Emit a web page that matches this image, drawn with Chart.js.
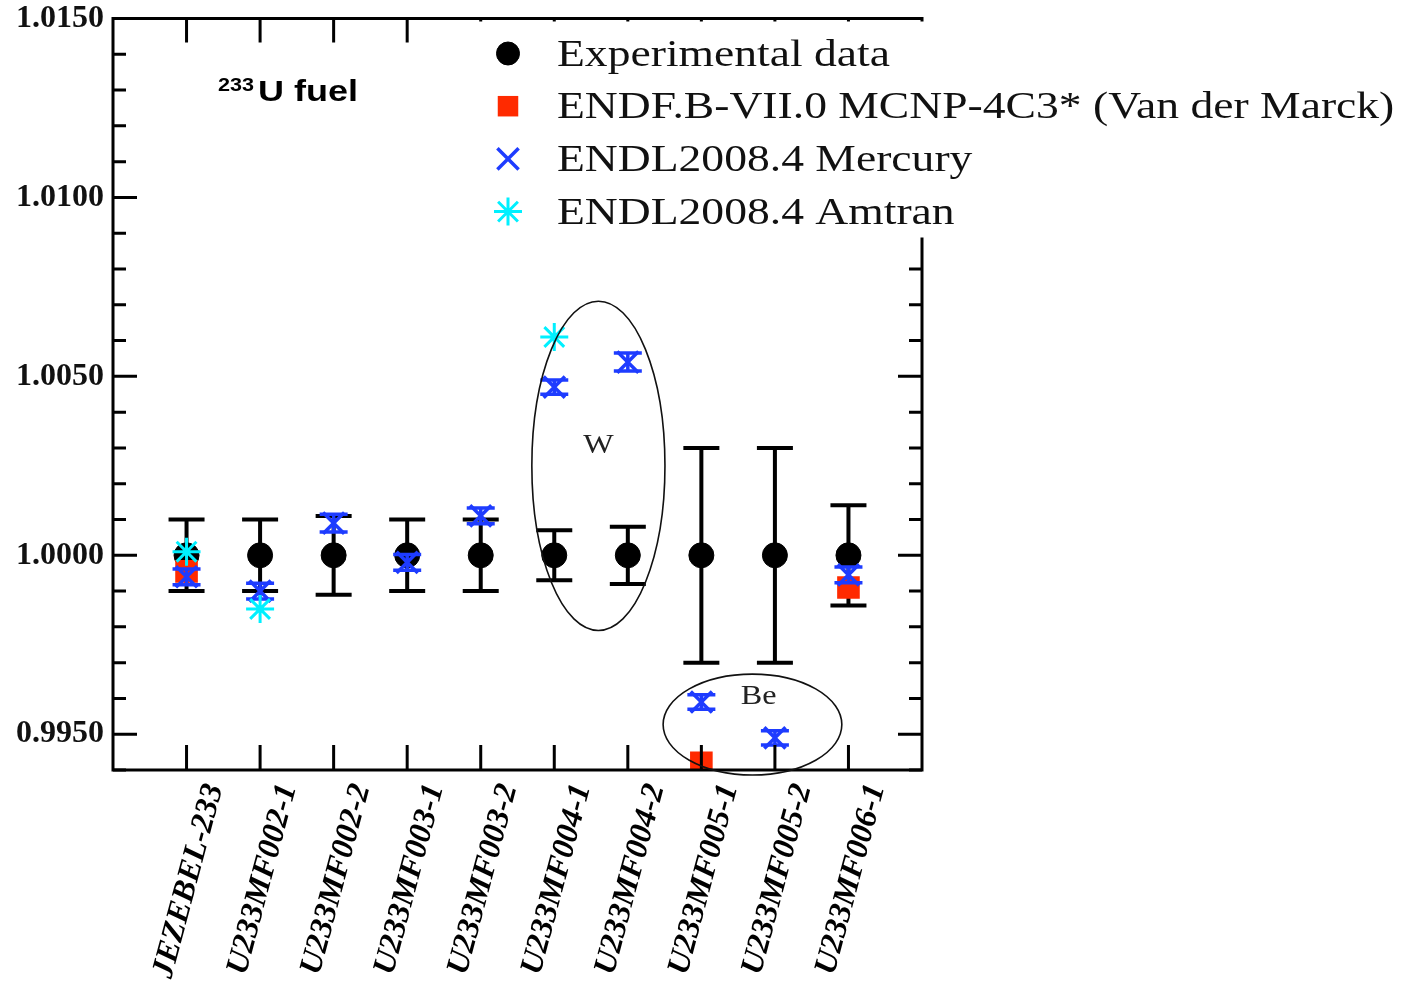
<!DOCTYPE html>
<html>
<head>
<meta charset="utf-8">
<script src="https://cdn.jsdelivr.net/npm/chart.js@4/dist/chart.umd.min.js"></script>
<style>
	html, body { margin: 0; padding: 0; background: #fff; }
	#wrap { width: 1414px; height: 985px; }
</style>
</head>
<body>
<div id="wrap"><canvas id="keff-chart"></canvas></div>
<script>
	// benchmark cases on the x axis
	var cases = ['JEZEBEL-233', 'U233MF002-1', 'U233MF002-2', 'U233MF003-1', 'U233MF003-2',
			'U233MF004-1', 'U233MF004-2', 'U233MF005-1', 'U233MF005-2', 'U233MF006-1'];

	// k-eff values (null = no point)
	var experimental = [1.0000, 1.0000, 1.0000, 1.0000, 1.0000, 1.0000, 1.0000, 1.0000, 1.0000, 1.0000];
	var experimentalErr = [0.0010, 0.0010, 0.0011, 0.0010, 0.0010, 0.0007, 0.0008, 0.0030, 0.0030, 0.0014];
	var endf = [0.99955, null, null, null, null, null, null, 0.9942, null, 0.99910];
	var mercury = [0.9994, 0.9990, 1.0009, 0.9998, 1.0011, 1.0047, 1.0054, 0.9959, 0.9949, 0.99945];
	var mercuryErr = [0.00022, 0.00022, 0.00025, 0.00022, 0.00022, 0.0002, 0.00025, 0.0002, 0.0002, 0.00022];
	var amtran = [1.0001, 0.9985, null, null, null, 1.0061, null, null, null, null];

	// labelled y ticks, minor ticks every 0.001
	var yLabels = ['0.9950', '1.0000', '1.0050', '1.0100', '1.0150'];

	function points(values, errs) {
		var out = [];
		values.forEach(function(v, i) {
			if (v === null) return;
			out.push({x: i + 1, y: v, err: errs ? errs[i] : 0});
		});
		return out;
	}

	var blue = '#1e3cff',
			red = '#ff2a00',
			cyan = '#00f0ff';

	// error bars, drawn just below each dataset's markers
	var errorBars = {
		id: 'errorBars',
		beforeDatasetDraw: function(chart, args) {
			var ds = chart.data.datasets[args.index];
			if (!ds.errorCap) return;
			var xs = chart.scales.x, ys = chart.scales.y, ctx = chart.ctx;
			ctx.save();
			ctx.strokeStyle = ds.errorColor;
			ctx.lineWidth = ds.errorWidth;
			ds.data.forEach(function(p) {
				if (!p.err) return;
				var x = xs.getPixelForValue(p.x),
						top = ys.getPixelForValue(p.y + p.err),
						bot = ys.getPixelForValue(p.y - p.err),
						c = ds.errorCap;
				ctx.beginPath();
				ctx.moveTo(x, top); ctx.lineTo(x, bot);
				ctx.moveTo(x - c, top); ctx.lineTo(x + c, top);
				ctx.moveTo(x - c, bot); ctx.lineTo(x + c, bot);
				ctx.stroke();
			});
			ctx.restore();
		}
	};

	// frame with inward ticks on all four sides, the W / Be ellipses and the legend box
	var decorations = {
		id: 'decorations',
		afterDatasetsDraw: function(chart) {
			var ctx = chart.ctx, a = chart.chartArea, xs = chart.scales.x, ys = chart.scales.y;
			ctx.save();
			ctx.strokeStyle = '#000';
			ctx.lineWidth = 3;
			ctx.beginPath();
			ctx.rect(a.left, a.top, a.right - a.left, a.bottom - a.top);
			ctx.stroke();

			ctx.beginPath();
			ys.ticks.forEach(function(t) {
				var y = ys.getPixelForValue(t.value),
						len = yLabels.indexOf(t.value.toFixed(4)) >= 0 ? 24 : 13;
				ctx.moveTo(a.left, y); ctx.lineTo(a.left + len, y);
				ctx.moveTo(a.right, y); ctx.lineTo(a.right - len, y);
			});
			xs.ticks.forEach(function(t) {
				var x = xs.getPixelForValue(t.value);
				ctx.moveTo(x, a.top); ctx.lineTo(x, a.top + 24);
				ctx.moveTo(x, a.bottom); ctx.lineTo(x, a.bottom - 25);
			});
			ctx.stroke();

			// annotation ellipses in data units
			ctx.lineWidth = 1.6;
			ctx.strokeStyle = '#111';
			[{cx: 6.6, cy: 1.0025, rx: 0.905, ry: 0.0046, text: 'W', tx: 6.6, ty: 1.00305},
			 {cx: 8.695, cy: 0.99527, rx: 1.215, ry: 0.00141, text: 'Be', tx: 8.78, ty: 0.99605}].forEach(function(e) {
				var cx = xs.getPixelForValue(e.cx), cy = ys.getPixelForValue(e.cy),
						rx = xs.getPixelForValue(e.cx + e.rx) - cx,
						ry = cy - ys.getPixelForValue(e.cy + e.ry);
				ctx.beginPath();
				ctx.ellipse(cx, cy, rx, ry, 0, 0, Math.PI * 2);
				ctx.stroke();
				ctx.save();
				ctx.translate(xs.getPixelForValue(e.tx), ys.getPixelForValue(e.ty));
				ctx.scale(1.15, 1);
				ctx.fillStyle = '#222';
				ctx.font = '28px "Liberation Serif"';
				ctx.textAlign = 'center';
				ctx.textBaseline = 'middle';
				ctx.fillText(e.text, 0, 0);
				ctx.restore();
			});

			// title inside the plot
			ctx.fillStyle = '#000';
			ctx.textBaseline = 'alphabetic';
			ctx.save();
			ctx.translate(a.left + 105, a.top + 72);
			ctx.scale(1.2, 1);
			ctx.font = 'bold 18px "Liberation Sans"';
			ctx.fillText('233', 0, 0);
			ctx.restore();
			ctx.save();
			ctx.translate(a.left + 145, a.top + 82);
			ctx.scale(1.2, 1);
			ctx.font = 'bold 30px "Liberation Sans"';
			ctx.fillText('U fuel', 0, 0);
			ctx.restore();

			// legend on a white box that covers the top right corner
			ctx.fillStyle = '#fff';
			ctx.fillRect(a.left + 357, a.top + 3, chart.width - a.left - 357, 216);
			chart.data.datasets.forEach(function(ds, i) {
				var y = a.top + 35 + i * 52.7;
				ctx.save();
				ctx.fillStyle = ds.backgroundColor;
				ctx.strokeStyle = ds.borderColor;
				ctx.lineWidth = ds.borderWidth;
				Chart.helpers.drawPoint(ctx, {pointStyle: ds.pointStyle, radius: ds.legendRadius, rotation: 0, borderWidth: ds.borderWidth}, 508, y);
				ctx.restore();
				ctx.save();
				ctx.translate(557, y + 12);
				ctx.scale(1.2, 1);
				ctx.fillStyle = '#111';
				ctx.font = '38px "Liberation Serif"';
				ctx.fillText(ds.label, 0, 0);
				ctx.restore();
			});
			ctx.restore();
		}
	};

	var ctx = document.getElementById('keff-chart').getContext('2d'),
			keffChart = new Chart(ctx, {
				type: 'scatter',
				data: {
					datasets: [{
						label: 'Experimental data',
						data: points(experimental, experimentalErr),
						pointStyle: 'circle',
						pointRadius: 12.5,
						legendRadius: 11.5,
						backgroundColor: '#000',
						borderColor: '#000',
						borderWidth: 1,
						errorCap: 18,
						errorWidth: 4,
						errorColor: '#000',
						order: 4
					}, {
						label: 'ENDF.B-VII.0 MCNP-4C3* (Van der Marck)',
						data: points(endf),
						pointStyle: 'rect',
						pointRadius: 16,
						legendRadius: 14.5,
						backgroundColor: red,
						borderColor: red,
						borderWidth: 0,
						order: 3
					}, {
						label: 'ENDL2008.4 Mercury',
						data: points(mercury, mercuryErr),
						pointStyle: 'crossRot',
						pointRadius: 15,
						legendRadius: 15,
						backgroundColor: blue,
						borderColor: blue,
						borderWidth: 3.5,
						errorCap: 14,
						errorWidth: 3.5,
						errorColor: blue,
						order: 2
					}, {
						label: 'ENDL2008.4 Amtran',
						data: points(amtran),
						pointStyle: 'star',
						pointRadius: 14,
						legendRadius: 14,
						backgroundColor: cyan,
						borderColor: cyan,
						borderWidth: 3,
						order: 1
					}]
				},
				options: {
					responsive: true,
					maintainAspectRatio: false,
					animation: false,
					layout: {padding: {top: 18, right: 492, left: 0, bottom: 0}},
					plugins: {
						legend: {display: false},
						tooltip: {enabled: false}
					},
					elements: {point: {hoverRadius: 12}},
					scales: {
						x: {
							type: 'linear',
							min: 0,
							max: 11,
							afterBuildTicks: function(s) {
								s.ticks = cases.map(function(c, i) { return {value: i + 1}; });
							},
							afterFit: function(s) {
								s.height = 215;
								s.paddingLeft = 0;
								s.paddingRight = 0;
							},
							grid: {display: false},
							border: {display: false},
							ticks: {
								autoSkip: false,
								minRotation: 75,
								maxRotation: 75,
								labelOffset: 28,
								padding: 2,
								color: '#000',
								font: {family: 'Liberation Serif', size: 32, weight: 'bold', style: 'italic'},
								callback: function(v) { return cases[v - 1] || ''; }
							}
						},
						y: {
							min: 0.994,
							max: 1.015,
							afterFit: function(s) {
								s.width = 113;
								s.paddingTop = 0;
								s.paddingBottom = 0;
							},
							grid: {display: false},
							border: {display: false},
							ticks: {
								stepSize: 0.001,
								autoSkip: false,
								padding: 1,
								color: '#111',
								font: {family: 'Liberation Serif', size: 32, weight: 'bold'},
								callback: function(v) {
									var s = Number(v).toFixed(4);
									return yLabels.indexOf(s) >= 0 ? s : '';
								}
							}
						}
					}
				},
				plugins: [errorBars, decorations]
			});
</script>
</body>
</html>
